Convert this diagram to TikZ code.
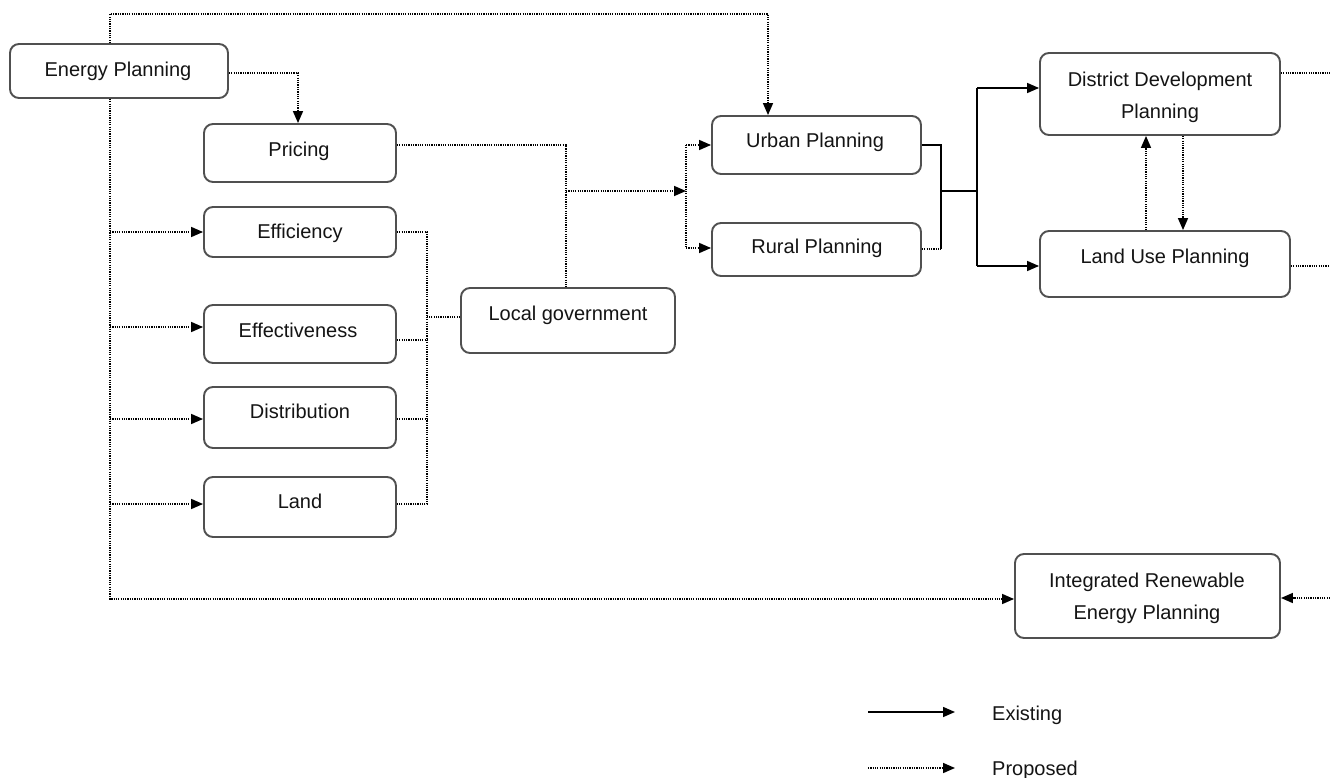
\documentclass[tikz,border=0pt]{standalone}
\usepackage{fontspec}
\setmainfont{Liberation Sans}
\usetikzlibrary{arrows.meta}
\definecolor{boxc}{HTML}{505050}
\definecolor{txtc}{HTML}{141414}
\begin{document}
\begin{tikzpicture}[x=1pt,y=-1pt,
  box/.style={draw=boxc, line width=1.9pt, rounded corners=9pt, inner sep=0pt, fill=white},
  lbl/.style={text=txtc, font=\fontsize{20}{24}\selectfont, inner sep=0pt, anchor=base},
  prop/.style={draw=black, line width=1.6pt, dash pattern=on 1.2pt off 1.1pt},
  exist/.style={draw=black, line width=1.5pt},
  tip/.style={-{Triangle[length=12pt,width=10pt]}}
]
\useasboundingbox (0,0) rectangle (1330,778);
\clip (0,0) rectangle (1330,778);

% boxes
\node[box, minimum width=218, minimum height=54] (ep) at (119,71) {};
\node[box, minimum width=192, minimum height=58] (pr) at (300,153) {};
\node[box, minimum width=192, minimum height=50] (ef) at (300,232) {};
\node[box, minimum width=192, minimum height=58] (ev) at (300,334) {};
\node[box, minimum width=192, minimum height=61] (di) at (300,417.5) {};
\node[box, minimum width=192, minimum height=60] (la) at (300,507) {};
\node[box, minimum width=214, minimum height=65] (lg) at (568,320.5) {};
\node[box, minimum width=209, minimum height=58] (ur) at (816.5,145) {};
\node[box, minimum width=209, minimum height=53] (ru) at (816.5,249.5) {};
\node[box, minimum width=240, minimum height=82] (dd) at (1160,94) {};
\node[box, minimum width=250, minimum height=66] (lu) at (1165,264) {};
\node[box, minimum width=265, minimum height=84] (ir) at (1147.5,596) {};

% labels
\node[lbl] (ept) at (118,77) {Energy Planning};
\node[lbl] (prt) at (299,157) {Pricing};
\node[lbl] (eft) at (300,238) {Efficiency};
\node[lbl] (evt) at (298,337) {Effectiveness};
\node[lbl] (dit) at (300,418) {Distribution};
\node[lbl] (lat) at (300,508) {Land};
\node[lbl] (lgt) at (568,320) {Local government};
\node[lbl] (urt) at (815,148) {Urban Planning};
\node[lbl] (rut) at (817,253) {Rural Planning};
\node[lbl] (ddt1) at (1160,87) {District Development};
\node[lbl] (ddt2) at (1160,119) {Planning};
\node[lbl] (lut) at (1165,263) {Land Use Planning};
\node[lbl] (irt1) at (1147,587) {Integrated Renewable};
\node[lbl] (irt2) at (1147,619) {Energy Planning};

% Energy Planning -> Urban Planning (over the top)
\coordinate (k1) at (110,14);
\coordinate (k2) at (768,14);
\draw[prop,tip] (ep.north -| k1) -- (k1) -- (k2) -- (ur.north -| k2);

% Energy Planning -> Pricing
\coordinate (k3) at (298,73);
\draw[prop,tip] (ep.east |- k3) -- (k3) -- (pr.north -| k3);

% Energy Planning -> Integrated Renewable Energy Planning, with branches
\coordinate (k4) at (110,599);
\draw[prop,tip] (ep.south -| k4) -- (k4) -- (ir.west |- k4);
\coordinate (b1) at (110,232);
\coordinate (b2) at (110,327);
\coordinate (b3) at (110,419);
\coordinate (b4) at (110,504);
\draw[prop,tip] (b1) -- (ef.west |- b1);
\draw[prop,tip] (b2) -- (ev.west |- b2);
\draw[prop,tip] (b3) -- (di.west |- b3);
\draw[prop,tip] (b4) -- (la.west |- b4);

% Pricing / Local government -> Urban, Rural
\coordinate (k5) at (566,145);
\draw[prop] (pr.east |- k5) -- (k5) -- (lg.north -| k5);
\coordinate (k6) at (566,191);
\coordinate (k7) at (686,191);
\draw[prop,tip] (k6) -- (k7);
\coordinate (k8) at (686,145);
\coordinate (k9) at (686,248);
\draw[prop] (k8) -- (k9);
\draw[prop,tip] (k8) -- (ur.west |- k8);
\draw[prop,tip] (k9) -- (ru.west |- k9);

% Efficiency ... Land -> Local government
\coordinate (m1) at (427,232);
\coordinate (m2) at (427,340);
\coordinate (m3) at (427,419);
\coordinate (m4) at (427,504);
\coordinate (m5) at (427,317);
\draw[prop] (ef.east |- m1) -- (m1) -- (m4) -- (la.east |- m4);
\draw[prop] (ev.east |- m2) -- (m2);
\draw[prop] (di.east |- m3) -- (m3);
\draw[prop] (lg.west |- m5) -- (m5);

% Urban, Rural -> District, Land Use
\coordinate (s1) at (941,145);
\coordinate (s2) at (941,191);
\coordinate (s3) at (941,249);
\coordinate (s4) at (977,191);
\coordinate (s5) at (977,88);
\coordinate (s6) at (977,266);
\draw[exist] (ur.east |- s1) -- (s1) -- (s3);
\draw[prop] (ru.east |- s3) -- (s3);
\draw[exist] (s2) -- (s4);
\draw[exist] (s5) -- (s6);
\draw[exist,tip] (s5) -- (dd.west |- s5);
\draw[exist,tip] (s6) -- (lu.west |- s6);

% District <-> Land Use
\coordinate (u1) at (1146,0);
\coordinate (u2) at (1183,0);
\draw[prop,tip] (lu.north -| u1) -- (dd.south -| u1);
\draw[prop,tip] (dd.south -| u2) -- (lu.north -| u2);

% right edge
\coordinate (e1) at (1330,73);
\coordinate (e2) at (1330,266);
\coordinate (e3) at (1330,598);
\draw[prop] (dd.east |- e1) -- (e1);
\draw[prop] (lu.east |- e2) -- (e2);
\draw[prop,tip] (e3) -- (ir.east |- e3);

% legend
\coordinate (l1) at (868,712);
\coordinate (l2) at (955,712);
\coordinate (l3) at (868,768);
\coordinate (l4) at (955,768);
\draw[exist,tip] (l1) -- (l2);
\draw[prop,tip] (l3) -- (l4);
\node[lbl, anchor=base west] (lex) at (992,720) {Existing};
\node[lbl, anchor=base west] (lpr) at (992,775) {Proposed};
\end{tikzpicture}
\end{document}
